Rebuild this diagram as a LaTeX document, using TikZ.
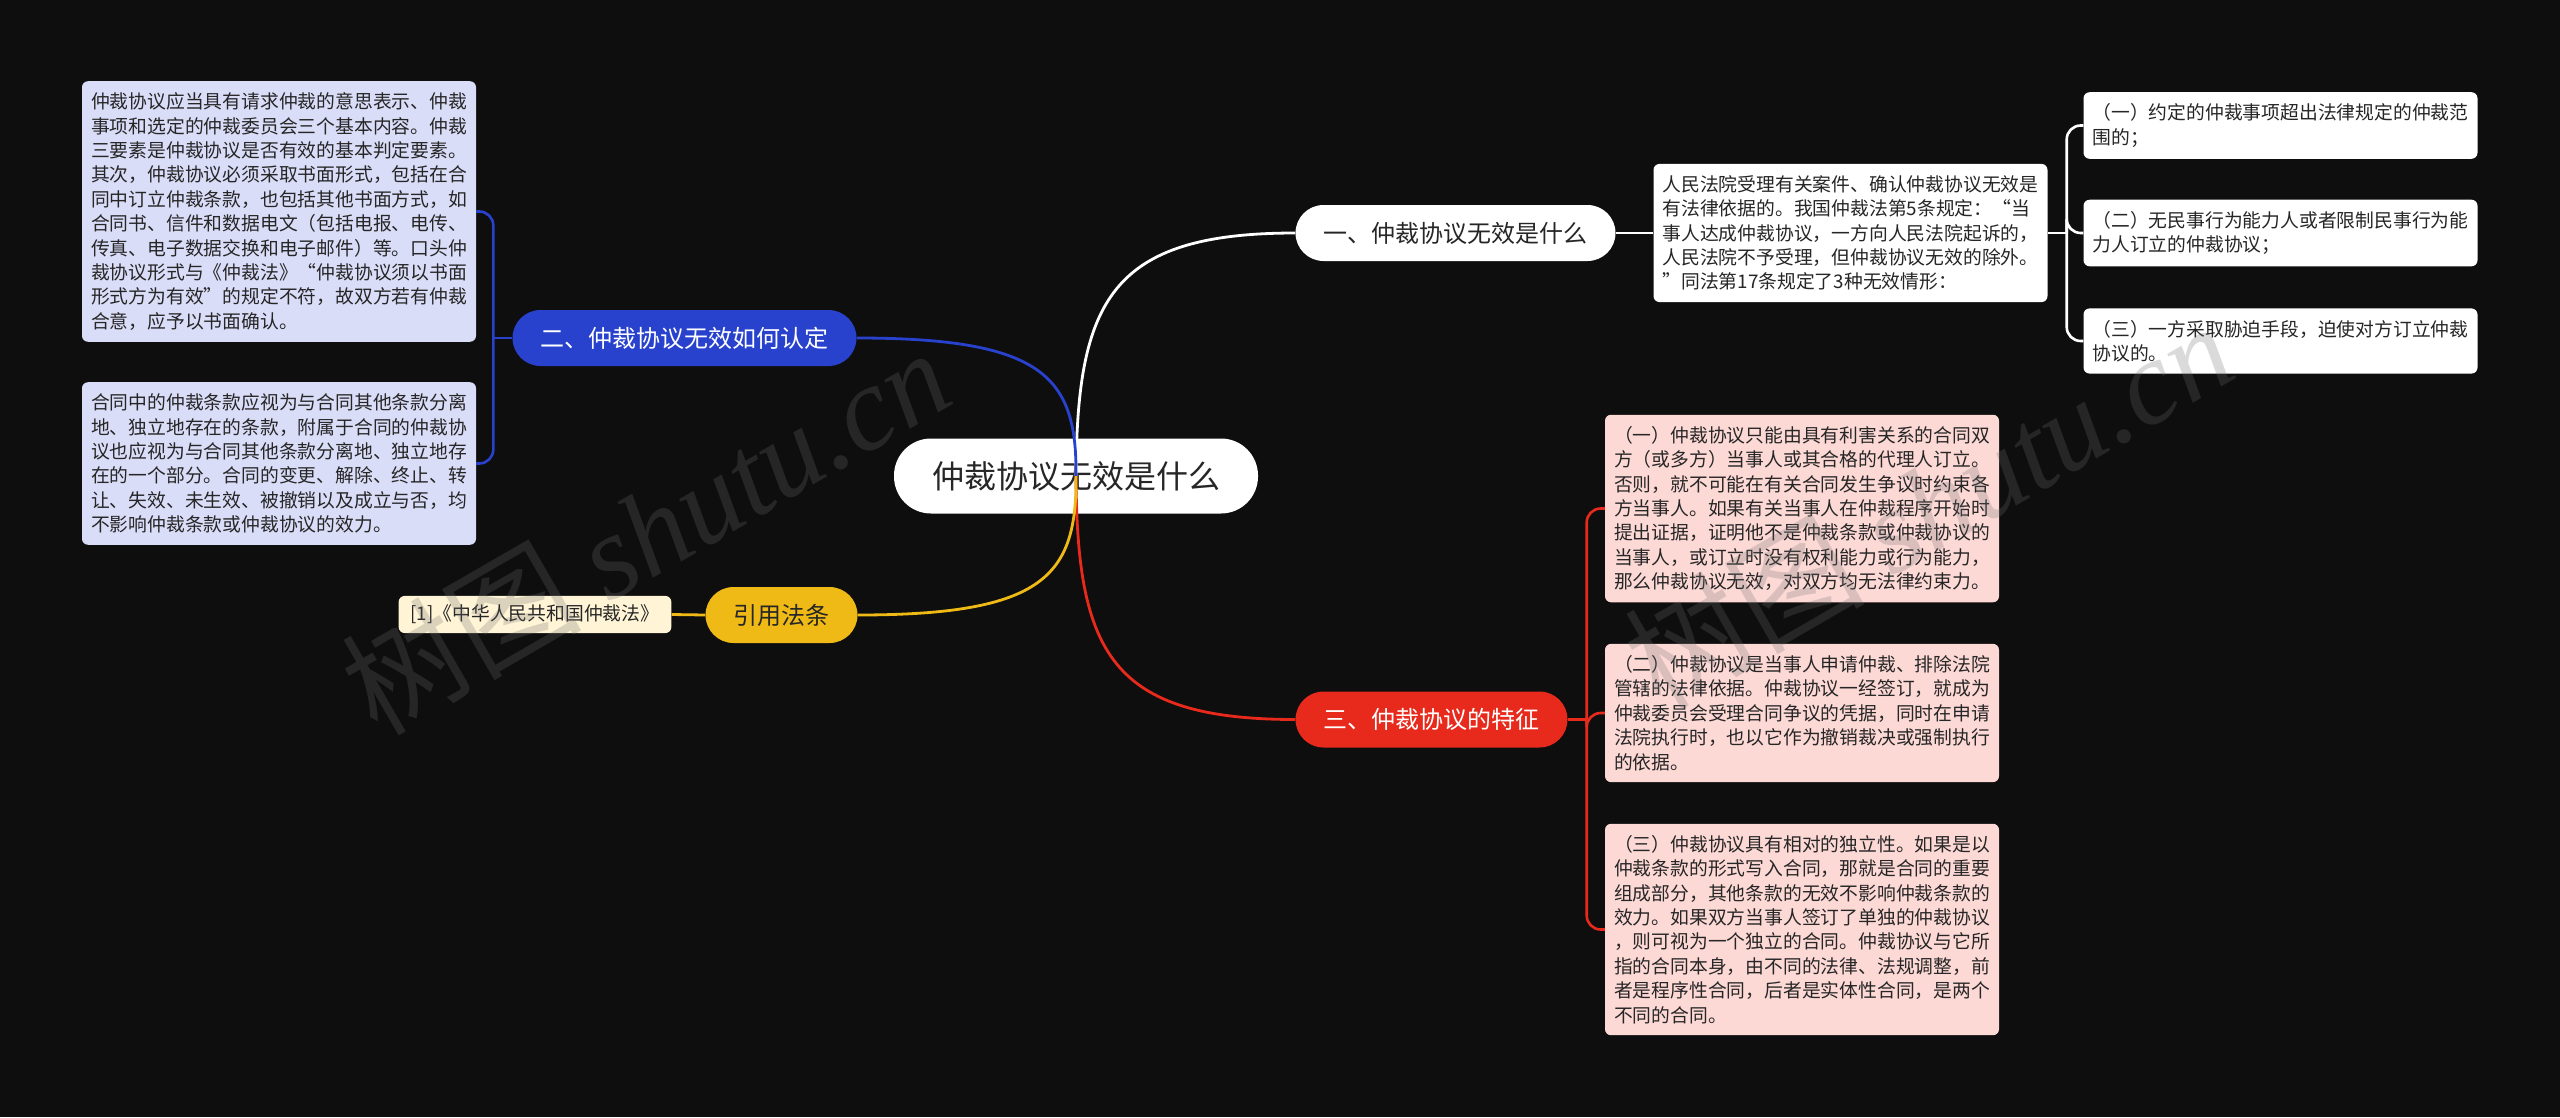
\documentclass[tikz,border=0pt]{standalone}
\usepackage{fontspec}
\setmainfont{Noto Sans CJK SC}
\newfontfamily\wmlatin{Liberation Serif}
\usepackage{tikz}

\definecolor{bgdark}{RGB}{14,14,14}
\definecolor{inkgray}{RGB}{38,38,38}
\definecolor{topicblue}{RGB}{40,66,206}
\definecolor{leafblue}{RGB}{218,221,248}
\definecolor{topicyellow}{RGB}{240,186,22}
\definecolor{leafyellow}{RGB}{255,244,214}
\definecolor{topicred}{RGB}{232,42,28}
\definecolor{leafred}{RGB}{253,217,214}

\begin{document}
\begin{tikzpicture}[x=1pt,y=-1pt,
    root/.style={fill=white,text=inkgray,rounded corners=37pt,minimum height=75pt,inner xsep=38pt,font=\fontsize{32}{38}\selectfont},
    topic/.style={rounded corners=28pt,minimum height=56pt,inner xsep=28pt,font=\fontsize{24}{28}\selectfont},
    leaf/.style={rounded corners=6pt,text=inkgray,align=left,text width=376pt,inner xsep=9pt,inner ysep=11.5pt,font=\fontsize{18.8}{24.4}\selectfont},
    link/.style={line width=2.8pt},
    fork/.style={line width=2.6pt,rounded corners=14pt},
    watermark/.style={text=black!57,text opacity=0.25,rotate=30,font=\fontsize{120}{130}\selectfont}]
    \path[fill=bgdark,use as bounding box] (0,0) rectangle (2560,1117);

    \node[root] (root) at (1076,476) {仲裁协议无效是什么};

    \node[topic,fill=white,text=inkgray] (t1) at (1455.5,233) {一、仲裁协议无效是什么};
    \node[topic,fill=topicblue,text=white] (t2) at (684.5,338) {二、仲裁协议无效如何认定};
    \node[topic,fill=topicred,text=white] (t3) at (1431.5,719.5) {三、仲裁协议的特征};
    \node[topic,fill=topicyellow,text=inkgray] (t4) at (781.5,615) {引用法条};

    \node[leaf,fill=white] (r0) at (1850.5,233) {人民法院受理有关案件、确认仲裁协议无效是\\有法律依据的。我国仲裁法第5条规定：“当\\事人达成仲裁协议，一方向人民法院起诉的，\\人民法院不予受理，但仲裁协议无效的除外。\\”同法第17条规定了3种无效情形：};
    \node[leaf,fill=white] (ra) at (2280.5,125.5) {（一）约定的仲裁事项超出法律规定的仲裁范\\围的；};
    \node[leaf,fill=white] (rb) at (2280.5,233) {（二）无民事行为能力人或者限制民事行为能\\力人订立的仲裁协议；};
    \node[leaf,fill=white] (rc) at (2280.5,341) {（三）一方采取胁迫手段，迫使对方订立仲裁\\协议的。};

    \node[leaf,fill=leafblue] (l1) at (279,211.5) {仲裁协议应当具有请求仲裁的意思表示、仲裁\\事项和选定的仲裁委员会三个基本内容。仲裁\\三要素是仲裁协议是否有效的基本判定要素。\\其次，仲裁协议必须采取书面形式，包括在合\\同中订立仲裁条款，也包括其他书面方式，如\\合同书、信件和数据电文（包括电报、电传、\\传真、电子数据交换和电子邮件）等。口头仲\\裁协议形式与《仲裁法》“仲裁协议须以书面\\形式方为有效”的规定不符，故双方若有仲裁\\合意，应予以书面确认。};
    \node[leaf,fill=leafblue] (l2) at (279,463.5) {合同中的仲裁条款应视为与合同其他条款分离\\地、独立地存在的条款，附属于合同的仲裁协\\议也应视为与合同其他条款分离地、独立地存\\在的一个部分。合同的变更、解除、终止、转\\让、失效、未生效、被撤销以及成立与否，均\\不影响仲裁条款或仲裁协议的效力。};

    \node[leaf,fill=leafred] (e1) at (1802,508.5) {（一）仲裁协议只能由具有利害关系的合同双\\方（或多方）当事人或其合格的代理人订立。\\否则，就不可能在有关合同发生争议时约束各\\方当事人。如果有关当事人在仲裁程序开始时\\提出证据，证明他不是仲裁条款或仲裁协议的\\当事人，或订立时没有权利能力或行为能力，\\那么仲裁协议无效，对双方均无法律约束力。};
    \node[leaf,fill=leafred] (e2) at (1802,713) {（二）仲裁协议是当事人申请仲裁、排除法院\\管辖的法律依据。仲裁协议一经签订，就成为\\仲裁委员会受理合同争议的凭据，同时在申请\\法院执行时，也以它作为撤销裁决或强制执行\\的依据。};
    \node[leaf,fill=leafred] (e3) at (1802,929.5) {（三）仲裁协议具有相对的独立性。如果是以\\仲裁条款的形式写入合同，那就是合同的重要\\组成部分，其他条款的无效不影响仲裁条款的\\效力。如果双方当事人签订了单独的仲裁协议\\，则可视为一个独立的合同。仲裁协议与它所\\指的合同本身，由不同的法律、法规调整，前\\者是程序性合同，后者是实体性合同，是两个\\不同的合同。};

    \node[leaf,fill=leafyellow,text width=,inner xsep=12pt,inner ysep=9pt] (cite) at (535,614.5) {[1]《中华人民共和国仲裁法》};

    \draw[link,white] (root.center) .. controls (1077,301) and (1110,233) .. (t1.west);
    \draw[link,topicblue] (root.center) .. controls (1077,377) and (1044,338) .. (t2.east);
    \draw[link,topicred] (root.center) .. controls (1077,652) and (1110,719.5) .. (t3.west);
    \draw[link,topicyellow] (root.center) .. controls (1077,576) and (1044,615) .. (t4.east);

    \draw[link,white] (t1.east) -- (r0.west);
    \draw[fork,white] (r0.east) -- ++(19,0) coordinate (r0b);
    \foreach \c in {ra,rb,rc}{
        \draw[fork,white] (r0b) |- (\c.west);
    }
    \draw[fork,topicblue] (t2.west) -- ++(-19,0) coordinate (t2b);
    \foreach \c in {l1,l2}{
        \draw[fork,topicblue] (t2b) |- (\c.east);
    }
    \draw[fork,topicred] (t3.east) -- ++(19,0) coordinate (t3b);
    \foreach \c in {e1,e2,e3}{
        \draw[fork,topicred] (t3b) |- (\c.west);
    }
    \draw[link,topicyellow] (t4.west) -- (cite.east);

    \node[watermark] (wm1) at (645,530) {树图 {\wmlatin\itshape shutu.cn}};
    \node[watermark] (wm2) at (1928,504) {树图 {\wmlatin\itshape shutu.cn}};
\end{tikzpicture}
\end{document}
